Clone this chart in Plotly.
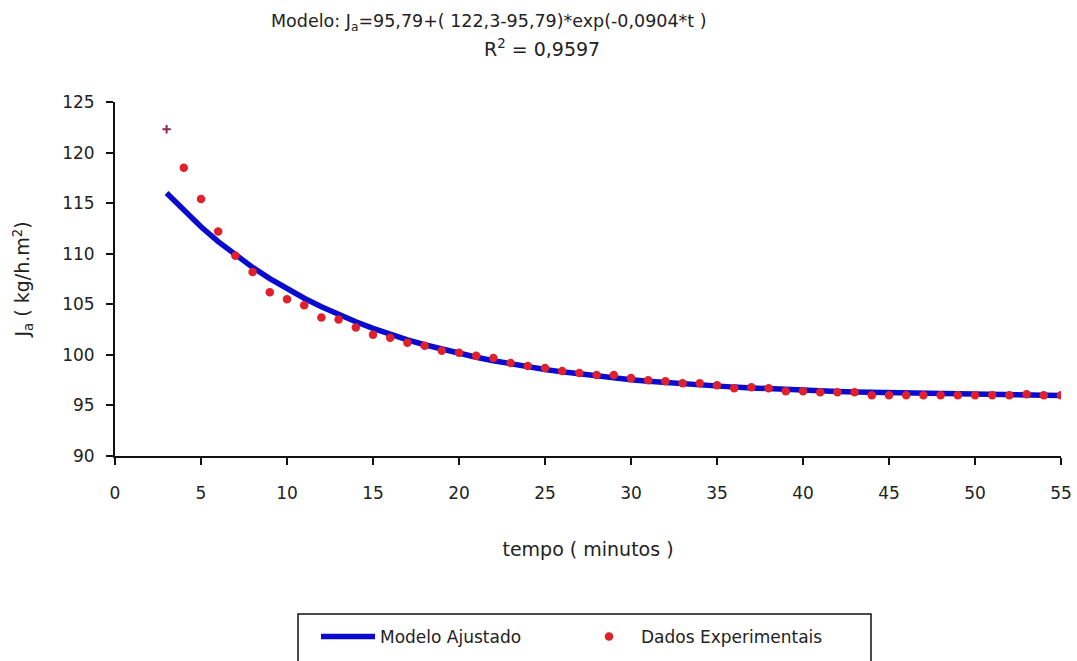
import plotly.graph_objects as go

# Time (minutes)
tempo = list(range(3, 56))

dados_exp = [122.3, 118.5, 115.4, 112.2, 109.8, 108.2, 106.2, 105.5, 104.9, 103.7,
             103.5, 102.7, 102.0, 101.7, 101.2, 100.9, 100.4, 100.2, 99.9, 99.7,
             99.2, 98.9, 98.7, 98.4, 98.2, 98.0, 98.0, 97.7, 97.5, 97.4,
             97.2, 97.2, 97.0, 96.7, 96.8, 96.7, 96.4, 96.4, 96.3, 96.3,
             96.3, 96.0, 96.0, 96.0, 96.0, 96.0, 96.0, 96.0, 96.0, 96.0,
             96.1, 96.0, 96.0]

# Fitted model curve
modelo = [116.00, 114.26, 112.66, 111.20, 109.87, 108.65, 107.54, 106.53, 105.60, 104.75,
          103.98, 103.27, 102.62, 102.03, 101.49, 101.00, 100.55, 100.14, 99.76, 99.42,
          99.10, 98.82, 98.56, 98.32, 98.10, 97.90, 97.72, 97.55, 97.40, 97.26,
          97.13, 97.02, 96.91, 96.81, 96.73, 96.64, 96.57, 96.50, 96.44, 96.38,
          96.33, 96.29, 96.24, 96.20, 96.17, 96.14, 96.11, 96.08, 96.05, 96.03,
          96.01, 95.99, 95.97]

x_ticks = list(range(0, 56, 5))
y_ticks = list(range(90, 126, 5))

FONT = "DejaVu Sans"
TXT = "#222222"

fig = go.Figure()
fig.add_trace(go.Scatter(
    x=tempo, y=modelo, mode="lines", name="Modelo Ajustado",
    line=dict(color="#0a0ad0", width=5.5),
))
fig.add_trace(go.Scatter(
    x=tempo[:1], y=dados_exp[:1], mode="markers", showlegend=False,
    marker=dict(symbol="cross-thin", size=6, color="#8a2a50",
                line=dict(color="#8a2a50", width=2)),
))
fig.add_trace(go.Scatter(
    x=tempo[1:], y=dados_exp[1:], mode="markers", name="Dados Experimentais",
    marker=dict(symbol="circle", size=8.5, color="#e0202a"),
))

W, H = 1077, 661
L, R, T, B = 115, 16, 102, 205
pw, ph = W - L - R, H - T - B


def px_x(p):
    return (p - L) / pw


def px_y(p):
    return (H - B - p) / ph


fig.update_layout(
    width=W, height=H,
    margin=dict(l=L, r=R, t=T, b=B),
    paper_bgcolor="white", plot_bgcolor="white",
    font=dict(family=FONT, size=16, color=TXT),
    showlegend=True,
    legend=dict(
        orientation="h", xref="container", yref="container",
        x=316 / W, y=1 - 619 / H, xanchor="left", yanchor="top",
        bgcolor="rgba(0,0,0,0)", borderwidth=0,
        font=dict(family=FONT, size=17, color=TXT),
        itemwidth=54,
        entrywidth=192, entrywidthmode="pixels",
    ),
    xaxis=dict(
        range=[0, 55], tickvals=x_ticks, ticktext=[str(v) for v in x_ticks],
        showgrid=False, zeroline=False, showline=True, linecolor="#111111", linewidth=2,
        ticks="outside", ticklen=7, tickwidth=2, tickcolor="#111111",
        tickfont=dict(family=FONT, size=17, color=TXT), ticklabelstandoff=14,
        ticklabeloverflow="allow",
        title=dict(text="tempo ( minutos )", font=dict(family=FONT, size=19, color=TXT),
                   standoff=40),
        automargin=False,
    ),
    yaxis=dict(
        range=[90, 125], tickvals=y_ticks, ticktext=[str(v) for v in y_ticks],
        showgrid=False, zeroline=False, showline=True, linecolor="#111111", linewidth=2,
        ticks="outside", ticklen=7, tickwidth=2, tickcolor="#111111",
        tickfont=dict(family=FONT, size=17, color=TXT), ticklabelstandoff=8,
        title=dict(text="J<sub>a</sub> ( kg/h.m<sup>2</sup>)",
                   font=dict(family=FONT, size=19, color=TXT), standoff=27),
        automargin=False,
    ),
    annotations=[
        dict(text="Modelo: J<sub>a</sub>=95,79+( 122,3-95,79)*exp(-0,0904*t )",
             x=px_x(489), y=px_y(22), xref="paper", yref="paper",
             xanchor="center", yanchor="middle", showarrow=False,
             font=dict(family=FONT, size=17.5, color=TXT)),
        dict(text="R<sup>2</sup> = 0,9597",
             x=px_x(542), y=px_y(48), xref="paper", yref="paper",
             xanchor="center", yanchor="middle", showarrow=False,
             font=dict(family=FONT, size=19, color=TXT)),
    ],
    shapes=[
        dict(type="rect", xref="paper", yref="paper",
             x0=px_x(298), x1=px_x(871), y0=px_y(614), y1=px_y(690),
             line=dict(color="#111111", width=1.5), fillcolor="rgba(0,0,0,0)"),
    ],
)

fig.write_html("out.html", config={"displayModeBar": False},
               post_script="document.body.style.margin='0';")
